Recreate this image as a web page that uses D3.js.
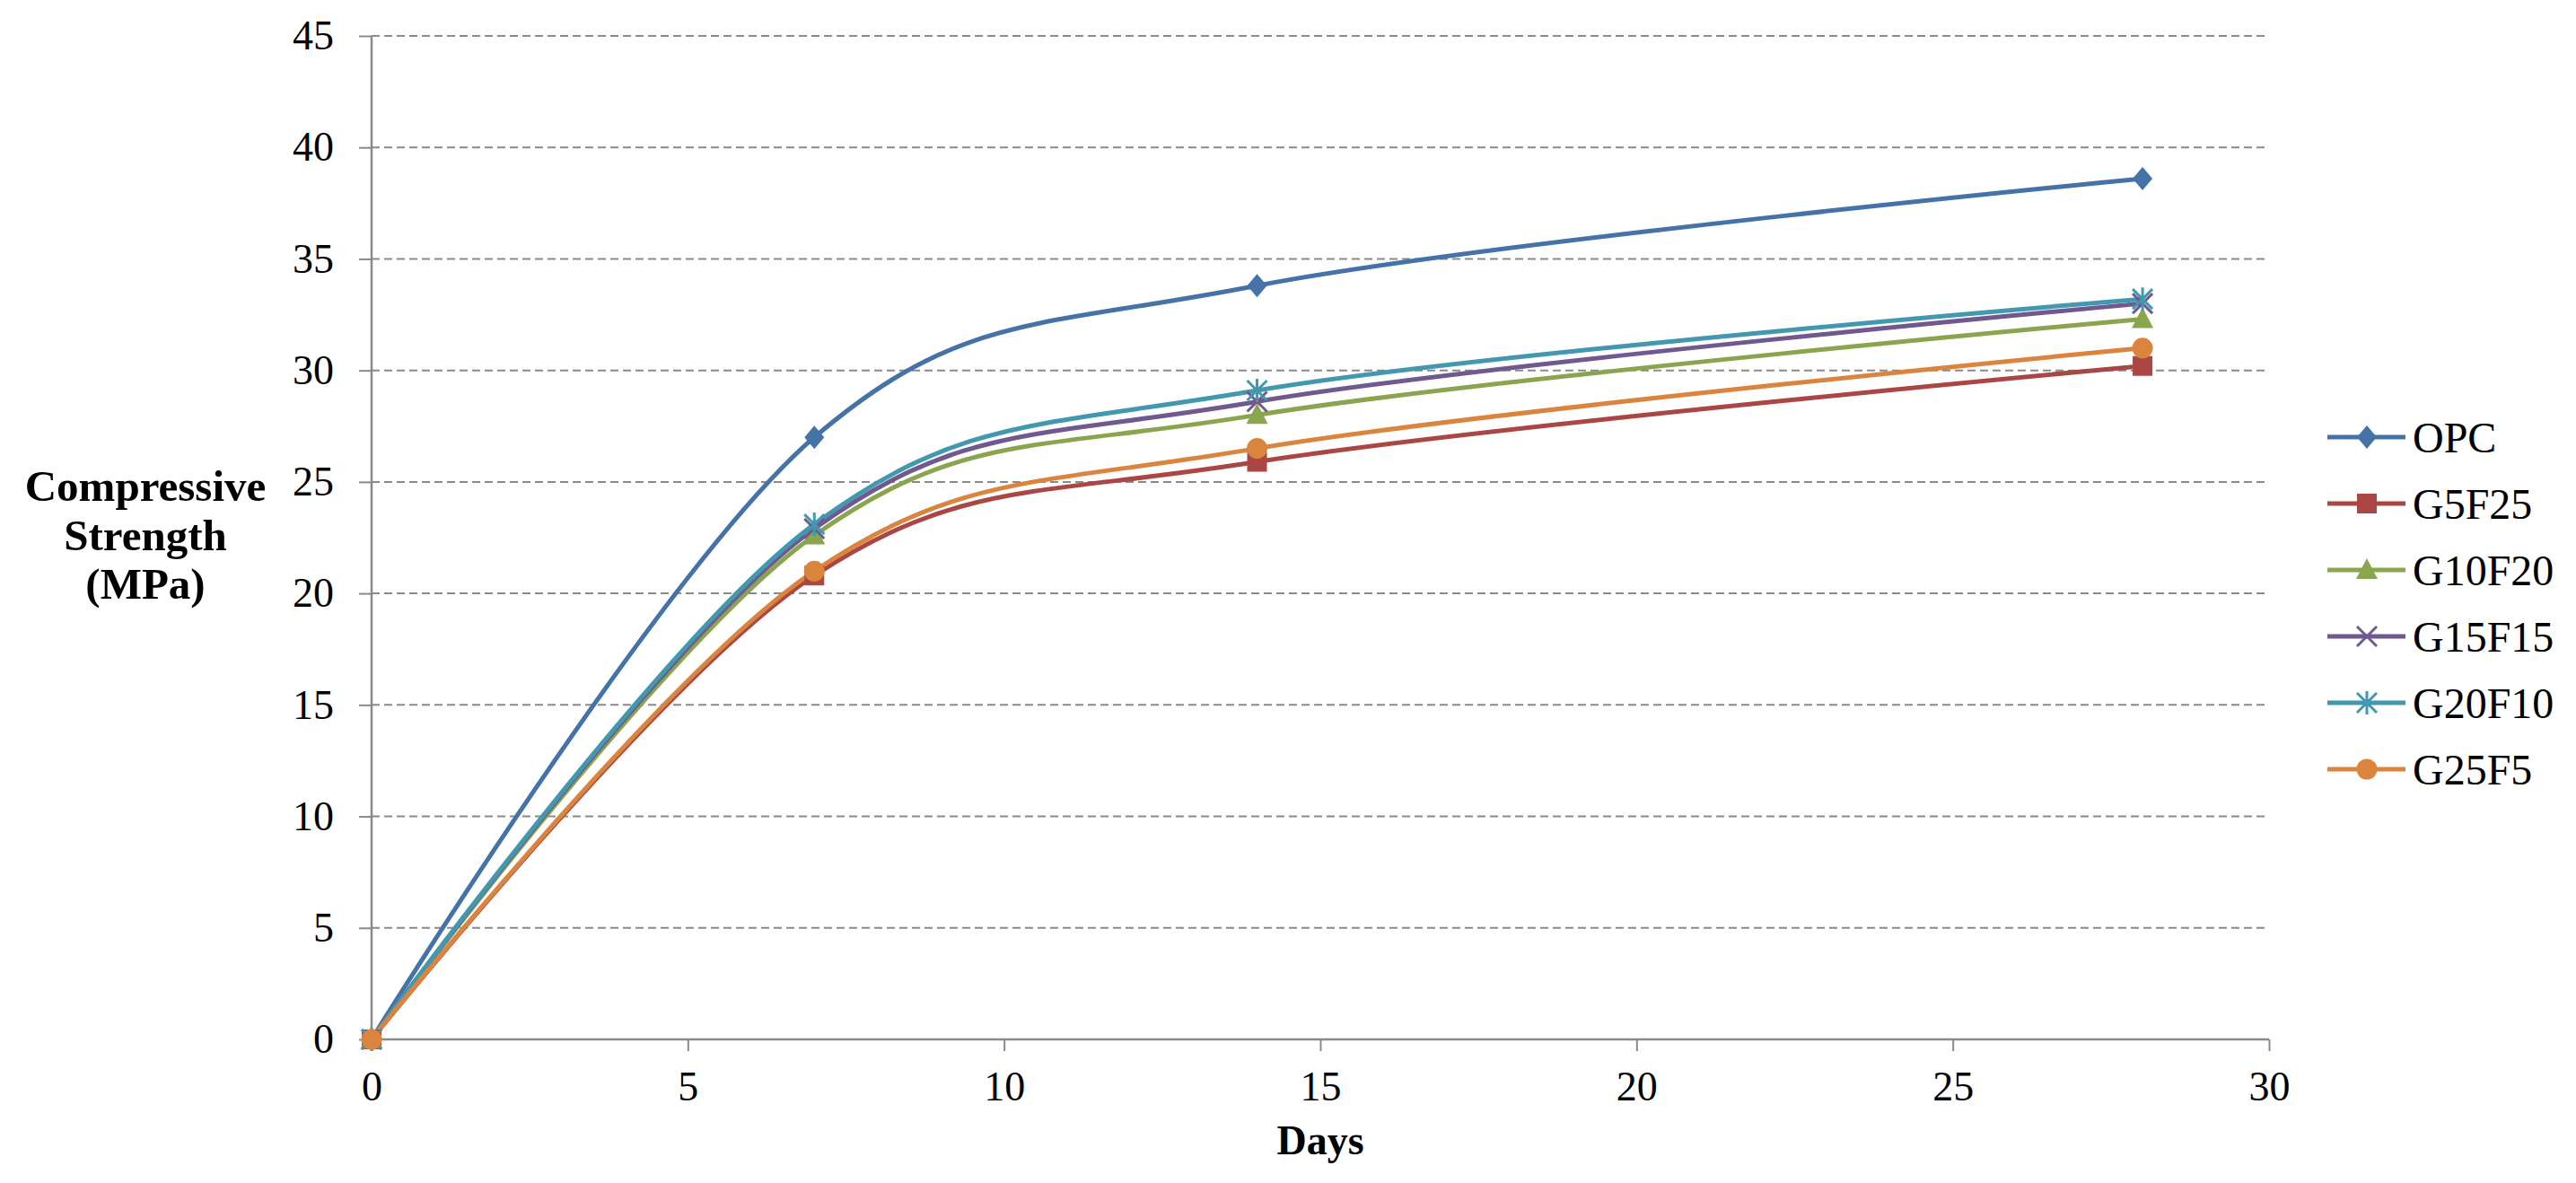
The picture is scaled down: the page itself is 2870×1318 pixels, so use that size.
<!DOCTYPE html>
<html><head><meta charset="utf-8">
<script src="https://cdn.jsdelivr.net/npm/d3@7"></script>
<style>body{margin:0;background:#fff}svg{display:block}</style>
</head><body>
<svg id="c" width="2870" height="1318"></svg>
<script>
const days = [0, 7, 14, 28];
const seriesNames = ["OPC", "G5F25", "G10F20", "G15F15", "G20F10", "G25F5"];
const OPC    = [0, 27.0, 33.8, 38.6];
const G5F25  = [0, 20.8, 25.9, 30.2];
const G10F20 = [0, 22.6, 28.0, 32.3];
const G15F15 = [0, 22.9, 28.6, 33.0];
const G20F10 = [0, 23.1, 29.1, 33.2];
const G25F5  = [0, 21.0, 26.5, 31.0];
const seriesValues = [OPC, G5F25, G10F20, G15F15, G20F10, G25F5];
const colors = ["#4572A7", "#AA4643", "#89A54E", "#71588F", "#4198AF", "#DB843D"];
const markers = ["diamond", "square", "triangle", "x", "star", "circle"];
const xTicks = [0, 5, 10, 15, 20, 25, 30];
const yTicks = [0, 5, 10, 15, 20, 25, 30, 35, 40, 45];

const svg = d3.select("#c");
const L = 414, R = 2528, T = 40, B = 1158;
const x = d3.scaleLinear().domain([0, 30]).range([L, R]);
const y = d3.scaleLinear().domain([0, 45]).range([B, T]);
const serif = "'Liberation Serif','Times New Roman',serif";
const axisCol = "#8a8a8a";

// gridlines
svg.append("g").selectAll("line").data(yTicks.filter(d => d > 0)).join("line")
  .attr("x1", L).attr("x2", R).attr("y1", d => y(d)).attr("y2", d => y(d))
  .attr("stroke", axisCol).attr("stroke-width", 2).attr("stroke-dasharray", "9,5");

// y axis
const yAxis = svg.append("g").attr("transform", `translate(${L},0)`)
  .call(d3.axisLeft(y).tickValues(yTicks).tickSize(14).tickPadding(28).tickFormat(d3.format("d")));
// x axis
const xAxis = svg.append("g").attr("transform", `translate(0,${B})`)
  .call(d3.axisBottom(x).tickValues(xTicks).tickSize(13).tickPadding(22).tickFormat(d3.format("d")));
[yAxis, xAxis].forEach(a => {
  a.select(".domain").attr("stroke", axisCol).attr("stroke-width", 2.5);
  a.selectAll(".tick line").attr("stroke", axisCol).attr("stroke-width", 2);
  a.selectAll("text").attr("font-family", serif).attr("font-size", 46).attr("fill", "#000");
});
yAxis.select(".domain").attr("d", `M0,${T}V${B}`);
xAxis.select(".domain").attr("d", `M${L},0H${R}`);

// lines
const line = d3.line().x((d, i) => x(days[i])).y(d => y(d)).curve(d3.curveCatmullRom.alpha(0));
const plot = svg.append("g");
seriesValues.forEach((vals, si) => {
  plot.append("path").attr("d", line(vals)).attr("fill", "none")
    .attr("stroke", colors[si]).attr("stroke-width", 5).attr("stroke-linejoin", "round");
});

function drawMarker(g, type, cx, cy, col) {
  const s = 11;
  if (type === "diamond") {
    g.append("path").attr("d", `M${cx},${cy - 13}L${cx + 11},${cy}L${cx},${cy + 13}L${cx - 11},${cy}Z`).attr("fill", col);
  } else if (type === "square") {
    g.append("rect").attr("x", cx - s).attr("y", cy - s).attr("width", 2 * s).attr("height", 2 * s).attr("fill", col);
  } else if (type === "triangle") {
    g.append("path").attr("d", `M${cx},${cy - 13}L${cx + 12},${cy + 10}L${cx - 12},${cy + 10}Z`).attr("fill", col);
  } else if (type === "circle") {
    g.append("circle").attr("cx", cx).attr("cy", cy).attr("r", 11.5).attr("fill", col);
  } else if (type === "x") {
    g.append("path").attr("d", `M${cx - 11},${cy - 11}L${cx + 11},${cy + 11}M${cx - 11},${cy + 11}L${cx + 11},${cy - 11}`)
      .attr("stroke", col).attr("stroke-width", 3);
  } else if (type === "star") {
    g.append("path").attr("d", `M${cx - 11},${cy - 11}L${cx + 11},${cy + 11}M${cx - 11},${cy + 11}L${cx + 11},${cy - 11}M${cx},${cy - 13}L${cx},${cy + 13}`)
      .attr("stroke", col).attr("stroke-width", 3);
  }
}
seriesValues.forEach((vals, si) => {
  const g = plot.append("g");
  vals.forEach((v, i) => drawMarker(g, markers[si], x(days[i]), y(v), colors[si]));
});

// axis titles
const yt = svg.append("text").attr("font-family", serif).attr("font-weight", "bold").attr("font-size", 49)
  .attr("text-anchor", "middle").attr("fill", "#000");
["Compressive", "Strength", "(MPa)"].forEach((t, i) =>
  yt.append("tspan").attr("x", 162).attr("y", 558 + i * 54.5).text(t));
svg.append("text").attr("x", (L + R) / 2).attr("y", 1286).attr("text-anchor", "middle")
  .attr("font-family", serif).attr("font-weight", "bold").attr("font-size", 46).text("Days");

// legend
const legY = [487, 561, 635, 709, 783, 857];
seriesNames.forEach((n, i) => {
  const g = svg.append("g");
  g.append("line").attr("x1", 2593).attr("x2", 2680).attr("y1", legY[i]).attr("y2", legY[i])
    .attr("stroke", colors[i]).attr("stroke-width", 5);
  drawMarker(g, markers[i], 2637, legY[i], colors[i]);
  g.append("text").attr("x", 2688).attr("y", legY[i]).attr("dy", "0.35em")
    .attr("font-family", serif).attr("font-size", 48).text(n);
});
</script>
</body></html>
